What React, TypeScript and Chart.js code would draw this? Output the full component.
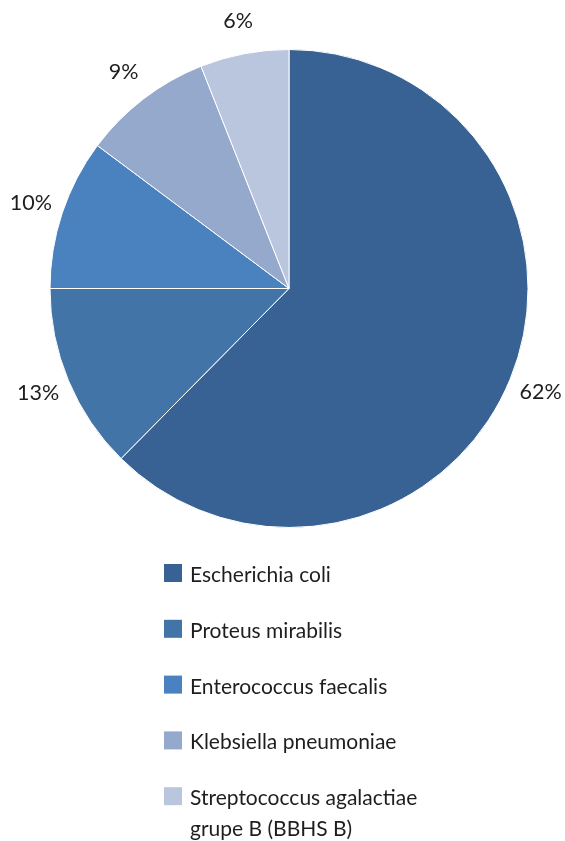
import React, { useEffect, useRef } from "react";
import { Chart, registerables } from "chart.js";

Chart.register(...registerables);

const categories = [
  "Escherichia coli",
  "Proteus mirabilis",
  "Enterococcus faecalis",
  "Klebsiella pneumoniae",
  "Streptococcus agalactiae grupe B (BBHS B)",
];
const legendLines = [
  ["Escherichia coli"],
  ["Proteus mirabilis"],
  ["Enterococcus faecalis"],
  ["Klebsiella pneumoniae"],
  ["Streptococcus agalactiae", "grupe B (BBHS B)"],
];
const values = [62.4, 12.6, 10.2, 8.8, 6.0];
const percentLabels = ["62%", "13%", "10%", "9%", "6%"];
const colors = ["#386294", "#4274a8", "#4a81bf", "#94a9cc", "#b9c6de"];

const FONT = "Lato, 'Open Sans', sans-serif";

const labelPlugin = {
  id: "outsideLabels",
  afterDraw(chart: any) {
    const ctx = chart.ctx;
    const meta = chart.getDatasetMeta(0);
    ctx.save();
    ctx.fillStyle = "#1e1e1e";
    ctx.font = `21.5px ${FONT}`;
    ctx.textAlign = "center";
    ctx.textBaseline = "middle";
    meta.data.forEach((arc: any, i: number) => {
      const { x, y, startAngle, endAngle, outerRadius } = arc.getProps(
        ["x", "y", "startAngle", "endAngle", "outerRadius"],
        true
      );
      const mid = (startAngle + endAngle) / 2;
      const r = outerRadius + 33;
      ctx.fillText(percentLabels[i], x + Math.cos(mid) * r, y + Math.sin(mid) * r);
    });

    // legend
    const sqX = 164;
    const sqSize = 18;
    const textX = 190;
    const firstBaseline = 582;
    const step = 55.8;
    ctx.textAlign = "left";
    ctx.textBaseline = "alphabetic";
    ctx.font = `21px ${FONT}`;
    legendLines.forEach((lines, i) => {
      const base = firstBaseline + i * step;
      ctx.fillStyle = colors[i];
      ctx.fillRect(sqX, base - sqSize, sqSize, sqSize);
      ctx.fillStyle = "#1e1e1e";
      lines.forEach((ln, j) => {
        ctx.fillText(ln, textX, base + j * 31);
      });
    });
    ctx.restore();
  },
};

export default function App() {
  const ref = useRef<HTMLCanvasElement | null>(null);
  useEffect(() => {
    document.body.style.margin = "0";
    const canvas = ref.current;
    if (!canvas) return;
    const chart = new Chart(canvas, {
      type: "pie",
      data: {
        labels: categories,
        datasets: [
          {
            data: values,
            backgroundColor: colors,
            borderColor: "#ffffff",
            borderWidth: 1,
          },
        ],
      },
      options: {
        responsive: false,
        animation: false,
        layout: { padding: { left: 49, right: 36, top: 49, bottom: 313 } },
        plugins: {
          legend: { display: false },
          tooltip: { enabled: false },
        },
      },
      plugins: [labelPlugin],
    });
    return () => chart.destroy();
  }, []);
  return (
    <div style={{ width: 565, height: 841, background: "#ffffff" }}>
      <canvas ref={ref} width={565} height={841} />
    </div>
  );
}
